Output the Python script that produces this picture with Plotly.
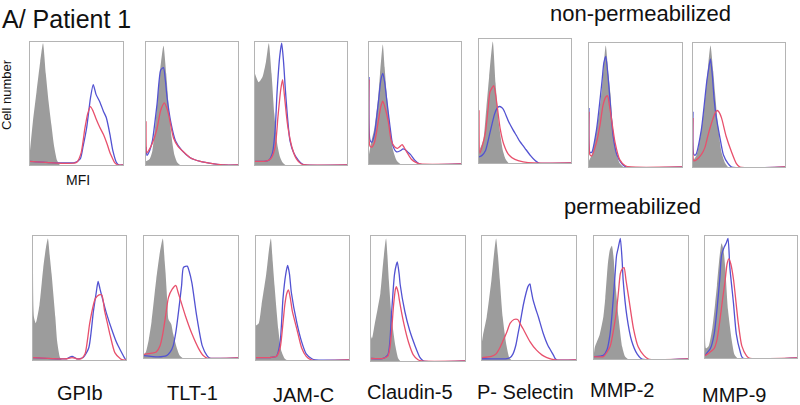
import plotly.graph_objects as go

# ---------------- data (x: MFI position 0-100, y: relative cell number 0-100) -------------
MARKERS = ["GPIb", "TLT-1", "JAM-C", "Claudin-5", "P- Selectin", "MMP-2", "MMP-9"]

# non-permeabilized
NP_GPIB_GREY = [(0,12),(3,35),(7,60),(11,85),(14,100),(17,75),(20,52),(23,33),(26,15),(29,4),(32,0)]
NP_GPIB_BLUE = [(0,3),(20,2),(48,2),(54,5),(57,15),(61,31),(65,55),(68,66),(71,58),(75,52),(79,44),(82,39),(86,25),(89,12),(93,2),(96,0),(100,0)]
NP_GPIB_RED = [(0,3),(20,2),(50,2),(55,10),(59,30),(62,42),(65,48),(68,44),(71,38),(75,31),(79,25),(83,17),(86,10),(89,5),(91,2),(95,0),(100,0)]

NP_TLT_GREY = [(0,3),(4,5),(7,12),(11,40),(15,75),(19,98),(22,75),(25,45),(28,22),(31,8),(34,2),(37,0)]
NP_TLT_BLUE = [(0,15),(1,8),(4,12),(7,20),(12,50),(16,78),(19,80),(21,70),(23,55),(27,35),(32,20),(39,12),(48,6),(59,3),(74,1),(85,0),(100,0)]
NP_TLT_RED = [(0,36),(1,10),(3,12),(7,18),(12,30),(16,45),(20,51),(23,46),(25,40),(30,22),(35,15),(39,12),(48,6),(59,3),(74,1),(85,0),(100,0)]

NP_JAMC_GREY = [(0,75),(4,68),(8,72),(12,85),(15,100),(18,75),(21,42),(24,18),(27,7),(30,2),(33,0)]
NP_JAMC_BLUE = [(0,3),(10,3),(15,4),(19,10),(22,30),(24,60),(27,90),(29,100),(31,85),(33,62),(35,42),(38,20),(42,10),(47,4),(51,1),(55,0),(100,0)]
NP_JAMC_RED = [(0,3),(10,3),(15,4),(18,6),(22,15),(25,40),(28,62),(30,70),(32,57),(34,42),(36,30),(40,15),(45,5),(50,1),(55,0),(100,0)]

NP_CLD_GREY = [(0,8),(3,20),(6,30),(10,55),(12,75),(15,99),(17,80),(19,60),(23,30),(26,12),(30,3),(34,0)]
NP_CLD_BLUE = [(0,72),(1,20),(3,18),(6,25),(10,50),(13,70),(15,75),(17,68),(19,55),(23,30),(26,15),(30,10),(34,11),(37,12.5),(39,12),(42,10),(45,8),(50,3),(55,0),(100,0)]
NP_CLD_RED = [(0,70),(1,15),(3,14),(6,18),(10,35),(13,48),(15,52),(18,45),(21,35),(24,20),(28,14),(31,13),(33,14),(36,16),(38,14),(41,10),(46,4),(52,1),(56,0),(100,0)]

NP_PSEL_GREY = [(0,10),(3,15),(5,20),(8,45),(11,70),(15,99),(18,65),(22,30),(26,10),(29,3),(32,0)]
NP_PSEL_BLUE = [(0,5),(3,6),(7,10),(12,25),(17,40),(20,45),(22,46),(25,45),(27,43),(32,34),(37,27),(41,22),(44,18),(50,12),(56,6),(61,2),(65,0),(100,0)]
NP_PSEL_RED = [(0,43),(1,8),(4,15),(7,25),(10,45),(12,58),(16,63),(18,56),(20,45),(23,28),(27,15),(32,7),(39,3),(48,1),(60,0),(100,0)]

NP_MMP2_GREY = [(0,5),(3,10),(8,30),(11,45),(14,65),(18,99),(21,75),(23,60),(26,30),(30,10),(33,3),(37,0)]
NP_MMP2_BLUE = [(0,48),(1,12),(3,12),(8,30),(14,70),(16,85),(18,90),(20,78),(22,60),(26,25),(30,10),(35,3),(40,0),(100,0)]
NP_MMP2_RED = [(0,45),(1,10),(3,9),(8,20),(12,35),(15,50),(18,57),(20,58),(22,50),(24,40),(28,20),(33,6),(39,1),(45,0),(100,0)]

NP_MMP9_GREY = [(0,5),(4,10),(9,30),(12,48),(15,70),(19,99),(22,78),(24,60),(27,35),(31,12),(35,3),(38,0)]
NP_MMP9_BLUE = [(0,45),(1,10),(3,10),(9,30),(15,70),(17,80),(19,88),(21,75),(23,55),(25,42),(29,25),(33,10),(38,3),(42,0),(100,0)]
NP_MMP9_RED = [(0,40),(1,5),(4,6),(9,10),(13,16),(16,25),(19,33),(22,40),(24,44),(26,46),(28,45),(31,40),(36,25),(42,12),(47,3),(51,0),(100,0)]

# permeabilized
P_GPIB_GREY = [(0,90),(1,35),(3,30),(7,45),(11,75),(14,92),(16,99),(18,85),(20,70),(24,35),(26,15),(29,2),(31,0)]
P_GPIB_BLUE = [(0,2),(36,1),(42,3),(47,1),(54,2),(60,10),(65,40),(68,55),(70,64),(72,58),(74,52),(79,38),(86,22),(90,14),(94,8),(99,1),(100,0)]
P_GPIB_RED = [(0,2),(36,1),(42,2),(47,1),(52,1),(56,5),(61,30),(65,45),(67,50),(71,53),(74,53),(77,40),(80,30),(83,20),(88,6),(94,1),(97,0),(100,0)]

P_TLT_GREY = [(0,3),(2,5),(5,15),(8,30),(13,65),(17,88),(20,99),(22,80),(23,70),(25,45),(26,32),(29,28),(31,20),(35,8),(38,2),(41,0)]
P_TLT_BLUE = [(0,2),(15,1),(24,2),(28,5),(31,10),(34,22),(37,40),(40,60),(42,75),(46,76),(48,72),(51,62),(56,35),(62,10),(67,2),(70,0),(100,0)]
P_TLT_RED = [(0,3),(8,4),(13,5),(17,10),(20,20),(23,35),(26,50),(30,57),(34,60),(36,55),(38,50),(44,35),(51,20),(58,8),(63,2),(67,0),(100,0)]

P_JAMC_GREY = [(0,28),(3,30),(6,45),(11,70),(14,90),(16,99),(18,80),(20,60),(24,25),(27,8),(31,1),(33,0)]
P_JAMC_BLUE = [(0,2),(15,2),(22,3),(26,15),(29,50),(32,70),(34,77),(36,70),(38,55),(44,30),(49,15),(54,5),(60,1),(64,0),(100,0)]
P_JAMC_RED = [(0,2),(15,2),(22,3),(26,10),(29,30),(31,45),(33,54),(35,57),(37,50),(39,40),(44,25),(49,10),(54,3),(60,0),(100,0)]

P_CLD_GREY = [(0,20),(1,18),(4,30),(7,42),(10,55),(13,80),(16,99),(19,65),(22,35),(26,12),(29,2),(31,0)]
P_CLD_BLUE = [(0,2),(12,2),(18,5),(20,15),(22,40),(25,70),(27,78),(28,80),(30,70),(31,62),(36,40),(41,25),(47,12),(52,3),(56,0),(100,0)]
P_CLD_RED = [(0,2),(12,2),(18,4),(20,10),(22,25),(24,45),(26,58),(27,60),(29,55),(30,50),(35,30),(40,15),(45,5),(50,1),(54,0),(100,0)]

P_PSEL_GREY = [(0,15),(1,20),(5,35),(10,65),(13,88),(15,99),(17,85),(19,65),(22,35),(26,12),(29,2),(31,0)]
P_PSEL_BLUE = [(0,1),(25,1),(30,2),(33,5),(36,12),(38,20),(41,32),(44,45),(47,55),(49,60),(51,62),(52,58),(54,50),(57,42),(60,35),(65,22),(70,12),(76,4),(78,1),(80,0),(100,0)]
P_PSEL_RED = [(0,2),(10,3),(15,5),(19,10),(22,15),(26,22),(30,30),(34,33),(38,33),(41,29),(44,25),(51,15),(58,8),(64,4),(69,2),(78,0),(100,0)]

P_MMP2_GREY = [(0,5),(1,10),(6,20),(10,35),(12,50),(15,80),(17,90),(19,93),(21,82),(22,70),(26,35),(30,10),(33,2),(36,0)]
P_MMP2_BLUE = [(0,2),(10,3),(14,8),(17,20),(19,35),(22,65),(24,85),(26,92),(28,99),(30,80),(31,65),(35,35),(40,15),(46,4),(51,0),(100,0)]
P_MMP2_RED = [(0,2),(10,2),(17,10),(21,25),(24,40),(26,55),(28,70),(30,74),(32,75),(34,65),(37,50),(42,25),(47,10),(53,3),(58,0),(100,0)]

P_MMP9_GREY = [(0,25),(1,8),(4,10),(8,25),(11,45),(13,60),(16,85),(18,95),(20,90),(22,75),(25,40),(29,15),(32,3),(35,0)]
P_MMP9_BLUE = [(0,2),(3,5),(6,8),(10,20),(13,40),(16,65),(18,85),(21,92),(23,95),(25,99),(27,75),(31,45),(34,20),(38,6),(41,0),(100,0)]
P_MMP9_RED = [(0,2),(4,4),(10,8),(13,15),(16,30),(19,48),(22,65),(24,78),(26,82),(28,78),(31,65),(36,30),(40,10),(45,2),(48,0),(100,0)]

NONPERM = [
    (NP_GPIB_GREY, NP_GPIB_BLUE, NP_GPIB_RED),
    (NP_TLT_GREY, NP_TLT_BLUE, NP_TLT_RED),
    (NP_JAMC_GREY, NP_JAMC_BLUE, NP_JAMC_RED),
    (NP_CLD_GREY, NP_CLD_BLUE, NP_CLD_RED),
    (NP_PSEL_GREY, NP_PSEL_BLUE, NP_PSEL_RED),
    (NP_MMP2_GREY, NP_MMP2_BLUE, NP_MMP2_RED),
    (NP_MMP9_GREY, NP_MMP9_BLUE, NP_MMP9_RED),
]
PERM = [
    (P_GPIB_GREY, P_GPIB_BLUE, P_GPIB_RED),
    (P_TLT_GREY, P_TLT_BLUE, P_TLT_RED),
    (P_JAMC_GREY, P_JAMC_BLUE, P_JAMC_RED),
    (P_CLD_GREY, P_CLD_BLUE, P_CLD_RED),
    (P_PSEL_GREY, P_PSEL_BLUE, P_PSEL_RED),
    (P_MMP2_GREY, P_MMP2_BLUE, P_MMP2_RED),
    (P_MMP9_GREY, P_MMP9_BLUE, P_MMP9_RED),
]

# ---------------- layout geometry (pixels) ----------------
W, H = 800, 405
BOX_TOP = [(30,123,42,165),(146,238,42,165),(255,347,42,165),(369,461,42,164),
           (479,571,39,163),(589,682,43,167),(693,785,43,167)]
BOX_BOT = [(33,126,236,360),(144,238,236,358),(256,349,236,360),(371,465,236,361),
           (482,576,236,360),(594,688,236,359),(705,797,236,358)]

GREY = "#9c9c9c"
BLUE = "#5252d2"
RED = "#e8506c"
FONT = "Liberation Sans, Arial, sans-serif"

fig = go.Figure()
layout_axes = {}
idx = 0
for boxes, sets in ((BOX_TOP, NONPERM), (BOX_BOT, PERM)):
    for (x0, x1, y0, y1), (g, b, r) in zip(boxes, sets):
        idx += 1
        xa = "x" if idx == 1 else f"x{idx}"
        ya = "y" if idx == 1 else f"y{idx}"
        fig.add_trace(go.Scatter(x=[p[0] for p in g], y=[p[1] for p in g], xaxis=xa, yaxis=ya,
                                 mode="lines", fill="tozeroy", fillcolor=GREY,
                                 line=dict(width=0, color=GREY, shape="spline", smoothing=0.6),
                                 hoverinfo="skip", showlegend=False))
        fig.add_trace(go.Scatter(x=[p[0] for p in b], y=[p[1] for p in b], xaxis=xa, yaxis=ya,
                                 mode="lines",
                                 line=dict(width=1.3, color=BLUE, shape="spline", smoothing=0.6),
                                 hoverinfo="skip", showlegend=False))
        fig.add_trace(go.Scatter(x=[p[0] for p in r], y=[p[1] for p in r], xaxis=xa, yaxis=ya,
                                 mode="lines",
                                 line=dict(width=1.3, color=RED, shape="spline", smoothing=0.6),
                                 hoverinfo="skip", showlegend=False))
        axcommon = dict(showticklabels=False, ticks="", showgrid=False, zeroline=False,
                        showline=True, mirror=True, linecolor="#b4b4b4", linewidth=1,
                        fixedrange=True)
        kx = "xaxis" if idx == 1 else f"xaxis{idx}"
        ky = "yaxis" if idx == 1 else f"yaxis{idx}"
        layout_axes[kx] = dict(domain=[x0 / W, x1 / W], range=[0, 100], anchor=ya, **axcommon)
        layout_axes[ky] = dict(domain=[1 - y1 / H, 1 - y0 / H], range=[0, 101], anchor=xa, **axcommon)

fig.update_layout(width=W, height=H, margin=dict(l=0, r=0, t=0, b=0),
                  paper_bgcolor="white", plot_bgcolor="white", showlegend=False,
                  **layout_axes)

def txt(s, px, py, size, angle=0, xanchor="center"):
    fig.add_annotation(text=s, x=px / W, y=1 - py / H, xref="paper", yref="paper",
                       xanchor=xanchor, yanchor="middle", showarrow=False, textangle=angle,
                       borderpad=0, font=dict(family=FONT, size=size, color="#111111"))

txt("A/ Patient 1", 1, 19, 25, xanchor="left")
txt("non-permeabilized", 640, 13, 22)
txt("permeabilized", 632, 207, 22)
txt("Cell number", 7, 95, 13, angle=-90)
txt("MFI", 78, 180, 14)
LABEL_POS = [(80, 393), (192, 393), (303, 395), (410, 392), (525, 392), (622, 390), (734, 395)]
for name, (lx, ly) in zip(MARKERS, LABEL_POS):
    txt(name, lx, ly, 20)

fig.write_html("out.html", config={"displayModeBar": False},
               post_script="document.body.style.margin='0';document.body.style.overflow='hidden';")
